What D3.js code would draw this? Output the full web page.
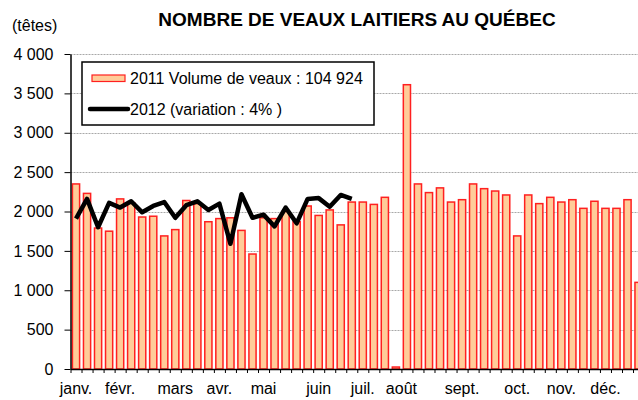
<!DOCTYPE html>
<html><head><meta charset="utf-8">
<script src="https://cdn.jsdelivr.net/npm/d3@7/dist/d3.min.js"></script>
<style>
html,body{margin:0;padding:0;background:#fff;}
svg{display:block;font-family:"Liberation Sans",Arial,sans-serif;}
</style></head>
<body>
<svg id="chart" width="638" height="400"></svg>
<script>
// ---- data ----
const title = "NOMBRE DE VEAUX LAITIERS AU QUÉBEC";
const unitLabel = "(têtes)";
const series2011Label = "2011 Volume de veaux : 104 924";
const series2012Label = "2012 (variation : 4% )";
const weeks2011 = [2350,2230,1790,1750,2160,2110,1930,1940,1690,1770,
                   2140,2100,1870,1910,1920,1760,1460,1920,1910,2000,
                   1870,2070,1950,2020,1830,2120,2120,2090,2180,25,
                   3610,2350,2240,2300,2120,2150,2350,2290,2260,2210,
                   1690,2210,2100,2180,2120,2150,2040,2130,2040,2040,
                   2150,1100];
const weeks2012 = [1910,2160,1800,2110,2050,2130,1990,2070,2120,1920,
                   2080,2130,2020,2100,1590,2220,1920,1960,1810,2050,
                   1850,2160,2170,2060,2210,2160];
const monthLabels = ["janv.","févr.","mars","avr.","mai","juin","juil.","août","sept.","oct.","nov.","déc."];
const monthWeek = [0,4,9,13,17,22,26,29.5,35,40,44,48];
const yTicks = [0,500,1000,1500,2000,2500,3000,3500,4000];

// ---- layout ----
const svg = d3.select("#chart");
const x0 = 70.5, step = 11.03, n = weeks2011.length;
const x1 = x0 + step*n;
const yTop = 54, yBot = 369;

const x = d3.scaleBand().domain(d3.range(n)).range([x0, x1]).paddingInner(0.35).paddingOuter(0.175);
const xLin = d3.scaleLinear().domain([0, n]).range([x0, x1]);
const y = d3.scaleLinear().domain([0, 4000]).range([yBot, yTop]);
const fmt = d3.formatLocale({decimal:",", thousands:"\u00a0", grouping:[3], currency:["","$"]}).format(",d");

// gridlines
svg.append("g").selectAll("line").data(yTicks.filter(d=>d>0)).join("line")
  .attr("x1", x0).attr("x2", 638)
  .attr("y1", d=>Math.round(y(d))+0.5).attr("y2", d=>Math.round(y(d))+0.5)
  .attr("stroke", "#a8a8a8").attr("stroke-width", 1).attr("stroke-dasharray", "2,1");

// bars
svg.append("g").selectAll("rect").data(weeks2011).join("rect")
  .attr("x", (d,i)=>x(i)).attr("width", x.bandwidth())
  .attr("y", d=>y(d)).attr("height", d=>yBot - y(d))
  .attr("fill", "#FFCC99").attr("stroke", "#FF2020").attr("stroke-width", 1.5);

// line 2012
const line = d3.line().x((d,i)=>x(i)+x.bandwidth()/2).y(d=>y(d));
svg.append("path").datum(weeks2012).attr("d", line)
  .attr("fill","none").attr("stroke","#000").attr("stroke-width",4.5)
  .attr("stroke-linejoin","round");

// y axis
const yAxis = d3.axisLeft(y).tickValues(yTicks).tickFormat(fmt).tickSizeInner(6).tickSizeOuter(0).tickPadding(11);
const gy = svg.append("g").attr("transform", `translate(${x0},0)`).call(yAxis);
gy.select(".domain").attr("stroke","#000").attr("stroke-width",1.5);
gy.selectAll(".tick line").attr("stroke","#000");
gy.selectAll("text").attr("font-size", 16).attr("fill","#000")
  .attr("font-family","Liberation Sans, Arial, sans-serif");

// x axis
const xAxis = d3.axisBottom(xLin).tickValues(d3.range(0, n+1)).tickFormat("").tickSizeInner(4).tickSizeOuter(0);
const gx = svg.append("g").attr("transform", `translate(0,${yBot})`).call(xAxis);
gx.select(".domain").attr("stroke","#000").attr("stroke-width",1.5);
gx.selectAll(".tick line").attr("stroke","#000");

// month labels
svg.append("g").selectAll("text").data(monthLabels).join("text")
  .attr("x", (d,i)=>xLin(monthWeek[i]+0.5)).attr("y", 394)
  .attr("text-anchor","middle").attr("font-size",16).attr("fill","#000")
  .text(d=>d);

// title
svg.append("text").attr("x", 357).attr("y", 26).attr("text-anchor","middle")
  .attr("font-size",19).attr("font-weight","bold").attr("fill","#000").text(title);
svg.append("text").attr("x", 12).attr("y", 31).attr("font-size",16).attr("fill","#000").text(unitLabel);

// legend
const lg = svg.append("g");
lg.append("rect").attr("x",82).attr("y",62).attr("width",292).attr("height",63)
  .attr("fill","#fff").attr("stroke","#000").attr("stroke-width",1.5);
lg.append("rect").attr("x",92).attr("y",75).attr("width",33).attr("height",6.5)
  .attr("fill","#FFCC99").attr("stroke","#FF2020").attr("stroke-width",1.2);
lg.append("text").attr("x",130).attr("y",84).attr("font-size",16).attr("fill","#000").text(series2011Label);
lg.append("line").attr("x1",90).attr("x2",128).attr("y1",109).attr("y2",109)
  .attr("stroke","#000").attr("stroke-width",4.5).attr("stroke-linecap","round");
lg.append("text").attr("x",130).attr("y",115).attr("font-size",16).attr("fill","#000").text(series2012Label);
</script>
</body></html>
